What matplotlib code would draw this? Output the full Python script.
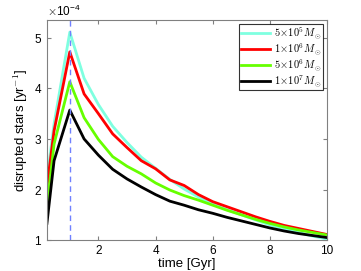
import numpy as np
import matplotlib.pyplot as plt
from matplotlib.ticker import ScalarFormatter

plt.rcParams["mathtext.fontset"] = "cm"
plt.rcParams["font.family"] = ["Liberation Sans", "DejaVu Sans"]

t = [0.2, 0.45, 1.0, 1.5, 2.0, 2.5, 3.0, 3.5, 4.0, 4.5, 5.0,
     5.5, 6.0, 6.5, 7.0, 7.5, 8.0, 8.5, 9.0, 9.5, 10.0]

# disrupted stars, units of 1e-4 per yr
m5e5 = [2.2, 3.3, 5.11, 4.2, 3.68, 3.25, 2.93, 2.64, 2.42, 2.2, 2.01,
        1.85, 1.71, 1.60, 1.50, 1.40, 1.30, 1.22, 1.15, 1.08, 1.02]
m1e6 = [2.05, 3.16, 4.72, 3.89, 3.5, 3.1, 2.83, 2.57, 2.41, 2.19, 2.08,
        1.90, 1.76, 1.66, 1.56, 1.46, 1.37, 1.29, 1.23, 1.17, 1.11]
m5e6 = [1.65, 2.9, 4.13, 3.42, 2.99, 2.65, 2.46, 2.31, 2.13, 1.99, 1.88,
        1.79, 1.69, 1.59, 1.50, 1.41, 1.33, 1.26, 1.20, 1.15, 1.10]
m1e7 = [1.33, 2.57, 3.57, 3.0, 2.68, 2.40, 2.21, 2.05, 1.90, 1.77, 1.69,
        1.60, 1.53, 1.45, 1.38, 1.31, 1.24, 1.18, 1.13, 1.09, 1.05]

series = [m5e5, m1e6, m5e6, m1e7]
labels = [r"$5\!\times\!10^5M_\odot$", r"$1\!\times\!10^6M_\odot$",
          r"$5\!\times\!10^6M_\odot$", r"$1\!\times\!10^7M_\odot$"]
colors = ["#7fffe0", "#ff0000", "#66ff00", "#000000"]

fig = plt.figure(figsize=(3.61, 2.71), dpi=100)
ax = fig.add_axes([0.130, 0.114, 0.776, 0.812])

for s, lab, c in zip(series, labels, colors):
    ax.plot(t, np.array(s) * 1e-4, color=c, lw=2.0, label=lab)

ax.axvline(1.0, color="#7080ff", ls="--", lw=1.0, dashes=(4, 3))

ax.set_xlim(0.2, 10)
ax.set_ylim(1e-4, 5.35e-4)
ax.set_xticks([2, 4, 6, 8, 10])
ax.set_yticks(np.array([1, 2, 3, 4, 5]) * 1e-4)

fmt = ScalarFormatter(useMathText=True)
fmt.set_powerlimits((-3, 3))
ax.yaxis.set_major_formatter(fmt)
ax.yaxis.get_offset_text().set_fontsize(8.5)

for sp in ax.spines.values():
    sp.set_color("#808080")
ax.tick_params(direction="in", top=True, right=True, length=3,
               color="#808080", labelsize=8.5)

ax.set_xlabel("time [Gyr]", fontsize=9.5, labelpad=1)
ax.set_ylabel(r"disrupted stars [yr$^{-1}$]", fontsize=9.5, labelpad=3)

leg = ax.legend(loc="upper right", fontsize=7.5, handlelength=2.8,
                borderpad=0.15, labelspacing=0.0, handletextpad=0.4,
                fancybox=False, borderaxespad=0.35)
leg.get_frame().set_edgecolor("black")
leg.get_frame().set_linewidth(0.8)

fig.savefig("out.png", dpi=100)
